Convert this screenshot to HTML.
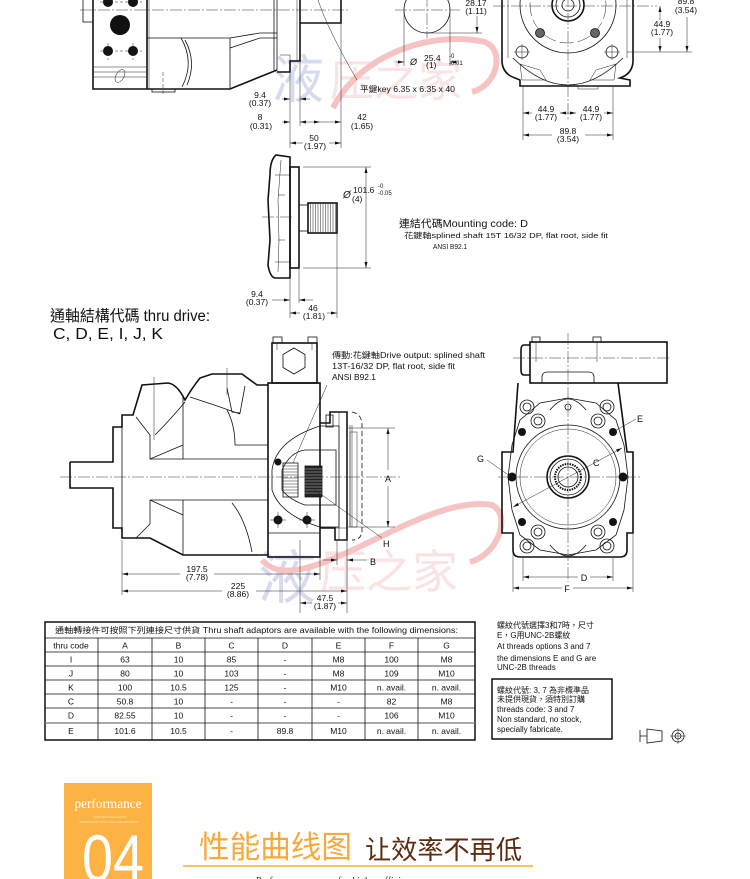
<!DOCTYPE html>
<html><head><meta charset="utf-8"><style>
html,body{margin:0;padding:0;background:#fff;}
svg{display:block;}
text{font-family:"Liberation Sans","Noto Sans CJK TC",sans-serif;fill:#111;}
.k{stroke:#111;fill:none;stroke-width:1.6}
.n{stroke:#111;fill:none;stroke-width:0.8}
.t{stroke:#222;fill:none;stroke-width:0.5}
.c{stroke:#333;fill:none;stroke-width:0.5;stroke-dasharray:12 2 2 2}
.dm{font-size:8.5px}
.sm{font-size:6px}
</style></head><body>
<svg width="750" height="879" viewBox="0 0 750 879" xmlns="http://www.w3.org/2000/svg">
<defs>
<marker id="a" viewBox="0 0 8 4" refX="8" refY="2" markerWidth="6" markerHeight="3" orient="auto-start-reverse" markerUnits="userSpaceOnUse"><path d="M0 0L8 2L0 4z" fill="#111"/></marker>
<pattern id="h" width="3" height="3" patternUnits="userSpaceOnUse" patternTransform="rotate(45)"><line x1="0" y1="0" x2="0" y2="3" stroke="#111" stroke-width="0.9"/></pattern>
</defs>

<!-- watermarks -->
<g opacity="0.75">
<text x="272" y="98" font-size="52" style="font-family:'Noto Sans CJK SC',sans-serif;fill:#c9d0ec">液</text>
<text x="330" y="96" font-size="44" style="font-family:'Noto Sans CJK SC',sans-serif;fill:#f8dada">压之家</text>
<path d="M333 108 C360 55 430 30 485 42 C505 50 498 85 472 92" stroke="#f4b0b0" stroke-width="6" fill="none"/>
<text x="258" y="598" font-size="58" style="font-family:'Noto Sans CJK SC',sans-serif;fill:#c9d0ec">液</text>
<text x="320" y="588" font-size="46" style="font-family:'Noto Sans CJK SC',sans-serif;fill:#f8dada">压之家</text>
<path d="M262 560 C300 605 420 492 492 505 C512 515 498 555 470 562" stroke="#f4b0b0" stroke-width="6" fill="none"/>
</g>

<!-- ========== TOP LEFT PUMP ========== -->
<rect x="83" y="-2" width="10" height="24" class="n"/>
<path d="M93 0V89H230L277 70" class="k"/>
<path d="M147 0V89" class="k"/>
<path d="M149 0V89M93 67H147M93 72H147M93 77H147" class="t"/>
<circle cx="108" cy="2" r="5" fill="#111"/><circle cx="133" cy="2" r="5" fill="#111"/>
<circle cx="120" cy="25" r="10" fill="#111"/>
<circle cx="108" cy="51" r="5" fill="#111"/><circle cx="133" cy="51" r="5" fill="#111"/>
<path d="M100 51H142M108 43V60M133 43V60M100 2H142" class="t" stroke-dasharray="3 2"/>
<ellipse cx="120" cy="76" rx="4" ry="7" transform="rotate(30 120 76)" class="t"/>
<path d="M147 38H230L260 33H277M230 38V88M230 48L260 38H277" class="n"/>
<path d="M181 38Q195 62 182 87M185 40Q197 62 187 85" class="n"/>
<rect x="152" y="89" width="23" height="3" class="n"/>
<path d="M163 72V94" class="t" stroke-dasharray="4 2"/>
<path d="M274 0V70M277 0V70" class="n"/>
<path d="M277 72H290V61H300V0" class="k"/>
<path d="M280 55H290V61" class="t"/>
<path d="M300 23H341V0" class="k"/>
<path d="M297 0V61" class="t"/>
<path d="M80 10H350" class="c"/>
<path d="M318 0Q328 30 357 80" class="t"/>
<text x="360" y="92" font-size="8" textLength="95" lengthAdjust="spacingAndGlyphs">平鍵key 6.35 x 6.35 x 40</text>
<!-- dims top-left -->
<path d="M290 73V148M300 62V126M341 24V148" class="t"/>
<line x1="282" y1="99" x2="290" y2="99" class="t" marker-end="url(#a)"/>
<line x1="310" y1="99" x2="300" y2="99" class="t" marker-end="url(#a)"/>
<text x="260" y="98" class="dm" text-anchor="middle">9.4</text>
<text x="260" y="106" class="dm" text-anchor="middle">(0.37)</text>
<line x1="282" y1="122" x2="290" y2="122" class="t" marker-end="url(#a)"/>
<line x1="320" y1="122" x2="300" y2="122" class="t" marker-end="url(#a)" marker-start="url(#a)"/>
<line x1="320" y1="122" x2="341" y2="122" class="t" marker-end="url(#a)"/>
<text x="260" y="120" class="dm" text-anchor="middle">8</text>
<text x="261" y="129" class="dm" text-anchor="middle">(0.31)</text>
<text x="362" y="120" class="dm" text-anchor="middle">42</text>
<text x="362" y="129" class="dm" text-anchor="middle">(1.65)</text>
<line x1="303" y1="143" x2="290" y2="143" class="t" marker-end="url(#a)"/>
<line x1="329" y1="143" x2="341" y2="143" class="t" marker-end="url(#a)"/>
<text x="314" y="141" class="dm" text-anchor="middle">50</text>
<text x="315" y="149" class="dm" text-anchor="middle">(1.97)</text>
<!-- shaft end circle -->
<circle cx="427" cy="10" r="23" class="n"/>
<path d="M427 -5V38M395 10H460" class="c"/>
<path d="M404 12V66M450 12V66M427 33H482" class="t"/>
<line x1="396" y1="62" x2="404" y2="62" class="t" marker-end="url(#a)"/>
<line x1="458" y1="62" x2="450" y2="62" class="t" marker-end="url(#a)"/>
<text x="410" y="65" font-size="9" font-style="italic">Ø</text>
<text x="424" y="61" class="dm">25.4</text>
<text x="426" y="68" class="dm">(1)</text>
<text x="449" y="58" class="sm">-0</text>
<text x="449" y="65" class="sm">-0.01</text>
<line x1="477" y1="16" x2="477" y2="33" class="t" marker-end="url(#a)"/>
<text x="476" y="6" class="dm" text-anchor="middle">28.17</text>
<text x="476" y="14" class="dm" text-anchor="middle">(1.11)</text>

<!-- ========== TOP RIGHT FRONT VIEW ========== -->
<path d="M502 0V62Q503 74 515 78L520 80V86H630V80L620 78Q632 74 633 62V0" class="k"/>
<path d="M508 0V58M627 0V58" class="t"/>
<circle cx="568" cy="5" r="48" class="n"/>
<circle cx="568" cy="5" r="38" class="t" stroke-dasharray="14 4"/>
<circle cx="568" cy="5" r="16" class="k"/>
<circle cx="568" cy="5" r="12" class="n"/>
<circle cx="568" cy="5" r="6" class="n"/>
<circle cx="540" cy="33" r="4.5" fill="#666" stroke="#111" stroke-width="0.8"/>
<circle cx="595" cy="33" r="4.5" fill="#666" stroke="#111" stroke-width="0.8"/>
<circle cx="522" cy="52" r="6" class="n"/><circle cx="612" cy="52" r="6" class="n"/>
<path d="M514 52H530M522 44V60M604 52H620M612 44V60" class="t"/>
<path d="M513 58Q568 112 623 58" class="n"/>
<path d="M520 64L540 70L546 80L522 80Z" fill="url(#h)" class="t"/>
<path d="M616 64L596 70L590 80L614 80Z" fill="url(#h)" class="t"/>
<rect x="578" y="86" width="20" height="3" class="t"/>
<path d="M568 -5V120M493 6H657" class="c"/>
<path d="M627 52H692M523 87V140M613 87V140" class="t"/>
<line x1="660" y1="20" x2="660" y2="6" class="t" marker-end="url(#a)"/>
<line x1="660" y1="38" x2="660" y2="52" class="t" marker-end="url(#a)"/>
<text x="662" y="27" class="dm" text-anchor="middle">44.9</text>
<text x="662" y="35" class="dm" text-anchor="middle">(1.77)</text>
<line x1="687" y1="17" x2="687" y2="52" class="t" marker-end="url(#a)"/>
<text x="686" y="4" class="dm" text-anchor="middle">89.8</text>
<text x="686" y="13" class="dm" text-anchor="middle">(3.54)</text>
<line x1="532" y1="113" x2="523" y2="113" class="t" marker-end="url(#a)"/>
<line x1="560" y1="113" x2="576" y2="113" class="t" marker-start="url(#a)" marker-end="url(#a)"/>
<line x1="604" y1="113" x2="613" y2="113" class="t" marker-end="url(#a)"/>
<text x="546" y="112" class="dm" text-anchor="middle">44.9</text>
<text x="546" y="120" class="dm" text-anchor="middle">(1.77)</text>
<text x="591" y="112" class="dm" text-anchor="middle">44.9</text>
<text x="591" y="120" class="dm" text-anchor="middle">(1.77)</text>
<line x1="552" y1="135" x2="523" y2="135" class="t" marker-end="url(#a)"/>
<line x1="585" y1="135" x2="613" y2="135" class="t" marker-end="url(#a)"/>
<text x="568" y="134" class="dm" text-anchor="middle">89.8</text>
<text x="568" y="142" class="dm" text-anchor="middle">(3.54)</text>

<!-- ========== SPLINE VIEW ========== -->
<path d="M290 157L276 155Q270 160 270 175L268 200L270 240L268 265Q270 277 275 278H290Z" class="k"/>
<path d="M281 160L278 200L279 240L278 272M278 195H285M278 240H285M275 175H290M275 262H290" class="t"/>
<rect x="290" y="167" width="9" height="101" class="k"/>
<rect x="299" y="205" width="9" height="26" class="n"/>
<rect x="308" y="203" width="29" height="30" class="k"/>
<path d="M310.5 204V232M313 204V232M315.5 204V232M318 204V232M320.5 204V232M323 204V232M325.5 204V232M328 204V232M330.5 204V232M333 204V232M335.5 204V232" class="t"/>
<path d="M262 217H292" class="c"/>
<path d="M303 167H371M303 268H371M337 234V318M290 279V318M299 269V303" class="t"/>
<line x1="366" y1="200" x2="366" y2="167" class="t" marker-end="url(#a)"/>
<line x1="366" y1="200" x2="366" y2="268" class="t" marker-end="url(#a)"/>
<text x="343" y="198" font-size="10" font-style="italic">Ø</text>
<text x="353" y="193" class="dm">101.6</text>
<text x="352" y="202" class="dm">(4)</text>
<text x="378" y="188" class="sm">-0</text>
<text x="378" y="195" class="sm">-0.05</text>
<text x="399" y="227" font-size="10.5" textLength="129" lengthAdjust="spacingAndGlyphs">連結代碼Mounting code: D</text>
<text x="404" y="238" font-size="7.5" textLength="204" lengthAdjust="spacingAndGlyphs">花鍵軸splined shaft 15T 16/32 DP, flat root, side fit</text>
<text x="433" y="249" font-size="7.5" textLength="34" lengthAdjust="spacingAndGlyphs">ANSI B92.1</text>
<line x1="272" y1="300" x2="290" y2="300" class="t" marker-end="url(#a)"/>
<line x1="313" y1="300" x2="299" y2="300" class="t" marker-end="url(#a)"/>
<text x="257" y="297" class="dm" text-anchor="middle">9.4</text>
<text x="257" y="305" class="dm" text-anchor="middle">(0.37)</text>
<line x1="300" y1="313" x2="290" y2="313" class="t" marker-end="url(#a)"/>
<line x1="327" y1="313" x2="337" y2="313" class="t" marker-end="url(#a)"/>
<text x="313" y="311" class="dm" text-anchor="middle">46</text>
<text x="314" y="319" class="dm" text-anchor="middle">(1.81)</text>

<!-- thru drive title -->
<text x="50" y="321" font-size="15.5" textLength="160" lengthAdjust="spacingAndGlyphs">通軸結構代碼 thru drive:</text>
<text x="53" y="339" font-size="16" textLength="110" lengthAdjust="spacingAndGlyphs">C, D, E, I, J, K</text>

<!-- ========== BIG PUMP SIDE VIEW ========== -->
<path d="M70 462H113V427H122V415H133L142 385L168 383Q177 384 185 400Q192 388 200 378L212 374H242L257 385H268" class="k"/>
<path d="M70 462V488H113V528H122V538H150L183 555H268" class="k"/>
<rect x="268" y="383" width="52" height="174" class="k"/>
<rect x="272" y="343" width="45" height="40" class="k"/>
<rect x="273" y="337" width="9" height="6" class="n"/><rect x="308" y="337" width="9" height="6" class="n"/>
<polygon points="294,348 305,354.5 305,367.5 294,374 283,367.5 283,354.5" class="n"/>
<path d="M277 343V350M312 343V350" class="t"/>
<!-- inner lines -->
<path d="M136 417L150 435V459H268M150 500H268V500M150 500V524L136 538M122 415V538" class="n"/>
<path d="M150 459L183 445M183 397V459M150 500L183 515M183 500V555" class="n"/>
<path d="M155 435Q170 420 185 402M190 397Q215 405 240 414M227 388L232 412L240 413L245 386" class="n"/>
<path d="M227 410Q235 425 235 445H268M232 503Q246 520 252 552" class="n"/>
<path d="M154 377V440M227 368V395" class="t"/>
<path d="M268 533H320" class="n"/>
<!-- cross section -->
<path d="M272 470Q276 440 320 426H339V527H320Q280 515 272 490ZM282 470Q290 452 305 450H336V505H305Q290 500 282 490Z" fill="url(#h)" fill-rule="evenodd" class="n"/>
<rect x="283" y="463" width="15" height="34" fill="#fff" class="n"/>
<path d="M283 466H298M283 469H298M283 472H298M283 475H298M283 478H298M283 481H298M283 484H298M283 487H298M283 490H298M283 493H298" class="t"/>
<rect x="305" y="466" width="17" height="31" fill="#222" stroke="#111" stroke-width="0.8"/>
<path d="M305 469H322M305 472H322M305 475H322M305 478H322M305 481H322M305 484H322M305 487H322M305 490H322M305 493H322" stroke="#ccc" stroke-width="0.5"/>
<circle cx="278" cy="462" r="3.5" fill="#111"/>
<circle cx="278" cy="520" r="4.5" fill="#111"/><circle cx="307" cy="520" r="4.5" fill="#111"/>
<path d="M270 520H286M278 512V528M299 520H315M307 512V528" class="t"/>
<path d="M320 423H330V412H347V540H335V528H320" class="k"/>
<rect x="339" y="412" width="8" height="128" fill="url(#h)" class="t"/>
<rect x="335" y="528" width="12" height="12" fill="url(#h)" class="t"/>
<rect x="326" y="415" width="7" height="12" fill="#fff" class="n"/>
<path d="M350 425V527M352 425V527" class="t"/>
<path d="M352 412Q362 414 362 425V530Q362 540 352 540" class="n" stroke-dasharray="5 3"/>
<rect x="350" y="432" width="7" height="95" class="t"/>
<path d="M60 477H400" class="c"/>
<path d="M347 428H395M347 527H395" class="t"/>
<line x1="388" y1="470" x2="388" y2="428" class="t" marker-end="url(#a)"/>
<line x1="388" y1="486" x2="388" y2="527" class="t" marker-end="url(#a)"/>
<text x="388" y="482" font-size="9" text-anchor="middle">A</text>
<path d="M327 385L293 463M315 490L382 538" class="t"/>
<text x="383" y="547" font-size="9">H</text>
<text x="332" y="358" font-size="8" textLength="153" lengthAdjust="spacingAndGlyphs">傳動:花鍵軸Drive output: splined shaft</text>
<text x="332" y="369" font-size="8" textLength="123" lengthAdjust="spacingAndGlyphs">13T-16/32 DP, flat root, side fit</text>
<text x="332" y="380" font-size="8" textLength="44" lengthAdjust="spacingAndGlyphs">ANSI B92.1</text>
<!-- bottom dims -->
<path d="M122 540V595M320 558V580M300 540V613M347 541V613M337 541V565" class="t"/>
<line x1="180" y1="574" x2="122" y2="574" class="t" marker-end="url(#a)"/>
<line x1="214" y1="574" x2="320" y2="574" class="t" marker-end="url(#a)"/>
<text x="197" y="572" class="dm" text-anchor="middle">197.5</text>
<text x="197" y="580" class="dm" text-anchor="middle">(7.78)</text>
<line x1="222" y1="591" x2="122" y2="591" class="t" marker-end="url(#a)"/>
<line x1="256" y1="591" x2="347" y2="591" class="t" marker-end="url(#a)"/>
<text x="238" y="589" class="dm" text-anchor="middle">225</text>
<text x="238" y="597" class="dm" text-anchor="middle">(8.86)</text>
<line x1="312" y1="603" x2="300" y2="603" class="t" marker-end="url(#a)"/>
<line x1="338" y1="603" x2="347" y2="603" class="t" marker-end="url(#a)"/>
<text x="325" y="601" class="dm" text-anchor="middle">47.5</text>
<text x="325" y="609" class="dm" text-anchor="middle">(1.87)</text>
<line x1="323" y1="560" x2="337" y2="560" class="t" marker-end="url(#a)"/>
<line x1="367" y1="560" x2="347" y2="560" class="t" marker-end="url(#a)"/>
<text x="370" y="565" font-size="9">B</text>

<!-- ========== RIGHT FRONT VIEW ========== -->
<rect x="530" y="342" width="137" height="41" class="k"/>
<path d="M530 345H524Q521 345 521 350V370Q521 375 524 375H530" class="k"/>
<rect x="532" y="337" width="8" height="5" class="n"/><rect x="593" y="337" width="8" height="5" class="n"/>
<path d="M536 342V362M597 342V362" class="t"/>
<path d="M513 358H670" class="c"/>
<path d="M518 383L513 452H502V533H513V550Q513 557 520 557H620Q627 557 627 550V533H633V452H627L618 383" class="k"/>
<path d="M542 383V377Q542 372 548 372H588Q594 372 594 377V383" class="n"/>
<polygon points="520,420 540,403 568,398 596,403 616,420 624,445 628,477 624,510 616,535 596,550 568,555 540,550 520,535 512,510 508,477 512,445" class="n"/>
<circle cx="568" cy="477" r="52" class="n"/>
<circle cx="568" cy="477" r="48" class="t"/>
<circle cx="568" cy="477" r="21" class="k"/>
<circle cx="568" cy="477" r="18" class="n"/>
<circle cx="568" cy="477" r="13" stroke="#111" stroke-width="2" fill="none" stroke-dasharray="1.5 1"/>
<circle cx="568" cy="477" r="10" class="n"/>
<g class="n">
<circle cx="527" cy="407" r="7"/><circle cx="607" cy="407" r="7"/><circle cx="527" cy="546" r="7"/><circle cx="607" cy="546" r="7"/>
<circle cx="527" cy="407" r="4"/><circle cx="607" cy="407" r="4"/><circle cx="527" cy="546" r="4"/><circle cx="607" cy="546" r="4"/>
<circle cx="538" cy="421" r="7"/><circle cx="598" cy="421" r="7"/><circle cx="538" cy="532" r="7"/><circle cx="598" cy="532" r="7"/>
<circle cx="538" cy="421" r="4"/><circle cx="598" cy="421" r="4"/><circle cx="538" cy="532" r="4"/><circle cx="598" cy="532" r="4"/>
</g>
<g fill="#111">
<circle cx="522" cy="432" r="4"/><circle cx="613" cy="432" r="4"/><circle cx="522" cy="522" r="4"/><circle cx="613" cy="522" r="4"/>
<circle cx="512" cy="477" r="4.5"/><circle cx="623" cy="477" r="4.5"/>
</g>
<path d="M550 410Q568 388 586 410M550 545Q568 567 586 545" class="n"/>
<circle cx="568" cy="407" r="3" class="n"/>
<path d="M568 333V582M498 477H642" class="c"/>
<path d="M613 432L636 419M487 460L510 476" class="t"/>
<text x="637" y="422" font-size="9">E</text>
<text x="477" y="462" font-size="9">G</text>
<text x="593" y="466" font-size="9">C</text>
<line x1="513" y1="507" x2="622" y2="448" class="t" marker-start="url(#a)" marker-end="url(#a)"/>
<path d="M523 558V581M613 558V581M513 534V592M633 534V592" class="t"/>
<line x1="578" y1="577" x2="523" y2="577" class="t" marker-end="url(#a)"/>
<line x1="590" y1="577" x2="613" y2="577" class="t" marker-end="url(#a)"/>
<text x="584" y="581" font-size="9" text-anchor="middle">D</text>
<line x1="562" y1="588" x2="513" y2="588" class="t" marker-end="url(#a)"/>
<line x1="573" y1="588" x2="633" y2="588" class="t" marker-end="url(#a)"/>
<text x="567" y="592" font-size="9" text-anchor="middle">F</text>

<!-- ========== TABLE ========== -->
<rect x="45" y="622" width="430" height="118" fill="none" stroke="#111" stroke-width="1.5"/>
<path d="M45 638H475M45 652H475M45 666H475M45 680H475M45 694H475M45 708H475" stroke="#111" stroke-width="0.8"/>
<path d="M45 723H475" stroke="#777" stroke-width="1.3"/>
<path d="M98 638V740M152 638V740M205 638V740M258 638V740M312 638V740M365 638V740M418 638V740" stroke="#111" stroke-width="0.8"/>
<text x="55" y="633" font-size="8" textLength="403" lengthAdjust="spacingAndGlyphs">通軸轉接件可按照下列連接尺寸供貨 Thru shaft adaptors are available with the following dimensions:</text>
<g font-size="8.5" text-anchor="middle">
<text x="71" y="648.5">thru code</text><text x="125" y="648.5">A</text><text x="178.5" y="648.5">B</text><text x="231.5" y="648.5">C</text><text x="285" y="648.5">D</text><text x="338.5" y="648.5">E</text><text x="391.5" y="648.5">F</text><text x="446.5" y="648.5">G</text>
<text x="71" y="662.5">I</text><text x="125" y="662.5">63</text><text x="178.5" y="662.5">10</text><text x="231.5" y="662.5">85</text><text x="285" y="662.5">-</text><text x="338.5" y="662.5">M8</text><text x="391.5" y="662.5">100</text><text x="446.5" y="662.5">M8</text>
<text x="71" y="676.5">J</text><text x="125" y="676.5">80</text><text x="178.5" y="676.5">10</text><text x="231.5" y="676.5">103</text><text x="285" y="676.5">-</text><text x="338.5" y="676.5">M8</text><text x="391.5" y="676.5">109</text><text x="446.5" y="676.5">M10</text>
<text x="71" y="690.5">K</text><text x="125" y="690.5">100</text><text x="178.5" y="690.5">10.5</text><text x="231.5" y="690.5">125</text><text x="285" y="690.5">-</text><text x="338.5" y="690.5">M10</text><text x="391.5" y="690.5">n. avail.</text><text x="446.5" y="690.5">n. avail.</text>
<text x="71" y="704.5">C</text><text x="125" y="704.5">50.8</text><text x="178.5" y="704.5">10</text><text x="231.5" y="704.5">-</text><text x="285" y="704.5">-</text><text x="338.5" y="704.5">-</text><text x="391.5" y="704.5">82</text><text x="446.5" y="704.5">M8</text>
<text x="71" y="718.5">D</text><text x="125" y="718.5">82.55</text><text x="178.5" y="718.5">10</text><text x="231.5" y="718.5">-</text><text x="285" y="718.5">-</text><text x="338.5" y="718.5">-</text><text x="391.5" y="718.5">106</text><text x="446.5" y="718.5">M10</text>
<text x="71" y="734">E</text><text x="125" y="734">101.6</text><text x="178.5" y="734">10.5</text><text x="231.5" y="734">-</text><text x="285" y="734">89.8</text><text x="338.5" y="734">M10</text><text x="391.5" y="734">n. avail.</text><text x="446.5" y="734">n. avail.</text>
</g>

<!-- ========== NOTES ========== -->
<g font-size="8">
<text x="497" y="628">螺紋代號選擇3和7時，尺寸</text>
<text x="497" y="638">E，G用UNC-2B螺紋</text>
<text x="497" y="649">At threads options 3 and 7</text>
<text x="497" y="661">the dimensions E and G are</text>
<text x="497" y="670">UNC-2B threads</text>
</g>
<rect x="492" y="679" width="120" height="60" fill="none" stroke="#111" stroke-width="1.5"/>
<g font-size="8">
<text x="497" y="693">螺紋代號: 3, 7 為非標準品</text>
<text x="497" y="702">未提供現貨，須特別訂購</text>
<text x="497" y="712">threads code: 3 and 7</text>
<text x="497" y="722">Non standard, no stock,</text>
<text x="497" y="732">specially fabricate.</text>
</g>
<path d="M640 730V742M640 736H647M647 729L662 731V741L647 743Z" class="n"/>
<circle cx="678" cy="736" r="6" class="n"/><circle cx="678" cy="736" r="3" class="n"/>
<path d="M670 736H686M678 728V744" class="t"/>

<!-- ========== BOTTOM BANNER ========== -->
<rect x="64" y="783" width="88" height="96" fill="#fdb244"/>
<text x="108" y="808" font-size="13.5" text-anchor="middle" textLength="67" lengthAdjust="spacingAndGlyphs" style="font-family:'Liberation Serif',serif;fill:#fff">performance</text>
<text x="110" y="818" font-size="3" text-anchor="middle" textLength="33" lengthAdjust="spacingAndGlyphs" style="fill:#fde3b8">PERFORMANCE CURVES</text>
<text x="109" y="823" font-size="3" text-anchor="middle" textLength="59" lengthAdjust="spacingAndGlyphs" style="fill:#fde3b8">PERFORMANCE CURVES FOR HIGHER EFFICIENCY</text>
<text x="82" y="881" font-size="66" textLength="62" lengthAdjust="spacingAndGlyphs" style="fill:#fff">04</text>
<text x="199" y="858" font-size="31" textLength="153" lengthAdjust="spacingAndGlyphs" style="font-family:'Noto Sans CJK SC',sans-serif;fill:#f8a93a">性能曲线图</text>
<text x="365" y="859" font-size="26" textLength="157" lengthAdjust="spacingAndGlyphs" style="font-family:'Noto Sans CJK SC',sans-serif;fill:#5b2c0f">让效率不再低</text>
<rect x="183" y="865" width="350" height="2" fill="#fbc25a"/>
<text x="256" y="884" font-size="10.5" textLength="164" lengthAdjust="spacingAndGlyphs" style="font-family:'Liberation Serif',serif;fill:#5b2c0f">Performance curves for higher efficiency</text>
</svg>
</body></html>
